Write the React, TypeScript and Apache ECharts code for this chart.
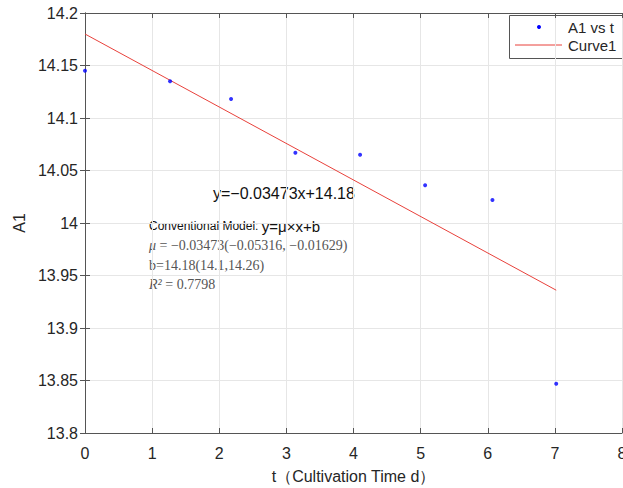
import React, { useEffect, useRef } from "react";
import * as echarts from "echarts";

const tValues = [0, 1.267, 2.176, 3.134, 4.098, 5.067, 6.07, 7.02];
const a1Values = [14.145, 14.135, 14.118, 14.067, 14.065, 14.036, 14.022, 13.847];
const curveT = [0, 7.02];
const curveA1 = [14.18, 13.936];
const xTicks = { min: 0, max: 8, interval: 1 };
const yTicks = { min: 13.8, max: 14.2, interval: 0.05 };
const legendNames = ["A1 vs t", "Curve1"];
const eqText = "y=\u22120.03473x+14.18";
const modelTitle = "Conventional Model: ";
const modelFormula = "y=\u03bc\u00d7x+b";
const muSym = "\u03bc";
const muRest = " = \u22120.03473(\u22120.05316, \u22120.01629)";
const bText = "b=14.18(14.1,14.26)";
const r2Sym = "R\u00b2";
const r2Rest = " = 0.7798";

const SANS = "'Liberation Sans', Arial, Helvetica, sans-serif";
const SERIF = "'Liberation Serif', 'DejaVu Serif', serif";
const BLUE = "#0000ff";
const RED = "#e8413b";

export default function App() {
  const ref = useRef<HTMLDivElement>(null);
  useEffect(() => {
    if (!ref.current) return;
    const chart = echarts.init(ref.current, undefined, { renderer: "svg" });
    const fmt = (v: number) => String(parseFloat(Number(v).toFixed(2)));
    const axisLine = { show: true, lineStyle: { color: "#555", width: 1 } };
    const tick = { show: true, inside: true, length: 5, lineStyle: { color: "#555" } };
    const serifRich = {
      i: { fontFamily: SERIF, fontSize: 14, fontStyle: "italic", fill: "#555" },
      n: { fontFamily: SERIF, fontSize: 14, fill: "#555" },
    };
    chart.setOption({
      animation: false,
      backgroundColor: "#fff",
      grid: {
        left: 85,
        right: 1,
        top: 13,
        bottom: 55,
        containLabel: false,
        outerBoundsMode: "none",
      },
      xAxis: [
        {
          type: "value",
          min: xTicks.min,
          max: xTicks.max,
          interval: xTicks.interval,
          position: "bottom",
          name: "t\uff08Cultivation Time d\uff09",
          nameLocation: "middle",
          nameGap: 35,
          nameTextStyle: { fontFamily: SANS, fontSize: 16, color: "#262626" },
          axisLine,
          axisTick: tick,
          axisLabel: { fontFamily: SANS, fontSize: 16, color: "#262626", margin: 12, formatter: fmt },
          splitLine: { show: true, lineStyle: { color: "#e6e6e6" } },
        },
        {
          type: "value",
          min: xTicks.min,
          max: xTicks.max,
          interval: xTicks.interval,
          position: "top",
          axisLine,
          axisTick: tick,
          axisLabel: { show: false },
          splitLine: { show: false },
        },
      ],
      yAxis: [
        {
          type: "value",
          min: yTicks.min,
          max: yTicks.max,
          interval: yTicks.interval,
          position: "left",
          name: "A1",
          nameLocation: "middle",
          nameGap: 47,
          nameTextStyle: { fontFamily: SANS, fontSize: 16, color: "#262626" },
          axisLine,
          axisTick: tick,
          axisLabel: { fontFamily: SANS, fontSize: 16, color: "#262626", margin: 7, formatter: fmt },
          splitLine: { show: true, lineStyle: { color: "#e6e6e6" } },
        },
        {
          type: "value",
          min: yTicks.min,
          max: yTicks.max,
          interval: yTicks.interval,
          position: "right",
          axisLine,
          axisTick: tick,
          axisLabel: { show: false },
          splitLine: { show: false },
        },
      ],
      series: [
        {
          name: legendNames[0],
          type: "scatter",
          symbol: "circle",
          symbolSize: 4,
          itemStyle: { color: BLUE },
          data: tValues.map((t, i) => [t, a1Values[i]]),
          z: 3,
        },
        {
          name: legendNames[1],
          type: "line",
          showSymbol: false,
          symbol: "none",
          lineStyle: { color: RED, width: 1 },
          itemStyle: { color: RED },
          data: curveT.map((t, i) => [t, curveA1[i]]),
          z: 2,
        },
      ],
      graphic: [
        {
          type: "group",
          z: 100,
          children: [
            {
              type: "rect",
              shape: { x: 509.5, y: 15.5, width: 113, height: 43 },
              style: { fill: "#fff", stroke: "#555", lineWidth: 1 },
            },
            {
              type: "circle",
              shape: { cx: 539, cy: 27, r: 2 },
              style: { fill: BLUE },
            },
            {
              type: "line",
              shape: { x1: 515, y1: 45, x2: 562, y2: 45 },
              style: { stroke: RED, lineWidth: 1 },
            },
            {
              type: "text",
              x: 568,
              y: 27,
              style: { text: legendNames[0], font: `15px ${SANS}`, fill: "#262626", verticalAlign: "middle" },
            },
            {
              type: "text",
              x: 568,
              y: 45,
              style: { text: legendNames[1], font: `15px ${SANS}`, fill: "#262626", verticalAlign: "middle" },
            },
          ],
        },
        {
          type: "text",
          x: 213,
          y: 193,
          style: { text: eqText, font: `16px ${SANS}`, fill: "#111", verticalAlign: "middle" },
        },
        {
          type: "text",
          x: 149,
          y: 226,
          style: {
            text: `{a|${modelTitle}}{b|${modelFormula}}`,
            verticalAlign: "middle",
            rich: {
              a: { fontFamily: SANS, fontSize: 12, fill: "#111" },
              b: { fontFamily: SANS, fontSize: 15, fill: "#111" },
            },
          },
        },
        {
          type: "text",
          x: 149,
          y: 245,
          style: { text: `{i|${muSym}}{n|${muRest}}`, verticalAlign: "middle", rich: serifRich },
        },
        {
          type: "text",
          x: 149,
          y: 265,
          style: { text: `{n|${bText}}`, verticalAlign: "middle", rich: serifRich },
        },
        {
          type: "text",
          x: 149,
          y: 284,
          style: { text: `{i|${r2Sym}}{n|${r2Rest}}`, verticalAlign: "middle", rich: serifRich },
        },
      ],
    });
    return () => chart.dispose();
  }, []);
  return (
    <div
      ref={ref}
      style={{ position: "fixed", left: 0, top: 0, width: 623, height: 488, background: "#fff" }}
    />
  );
}
